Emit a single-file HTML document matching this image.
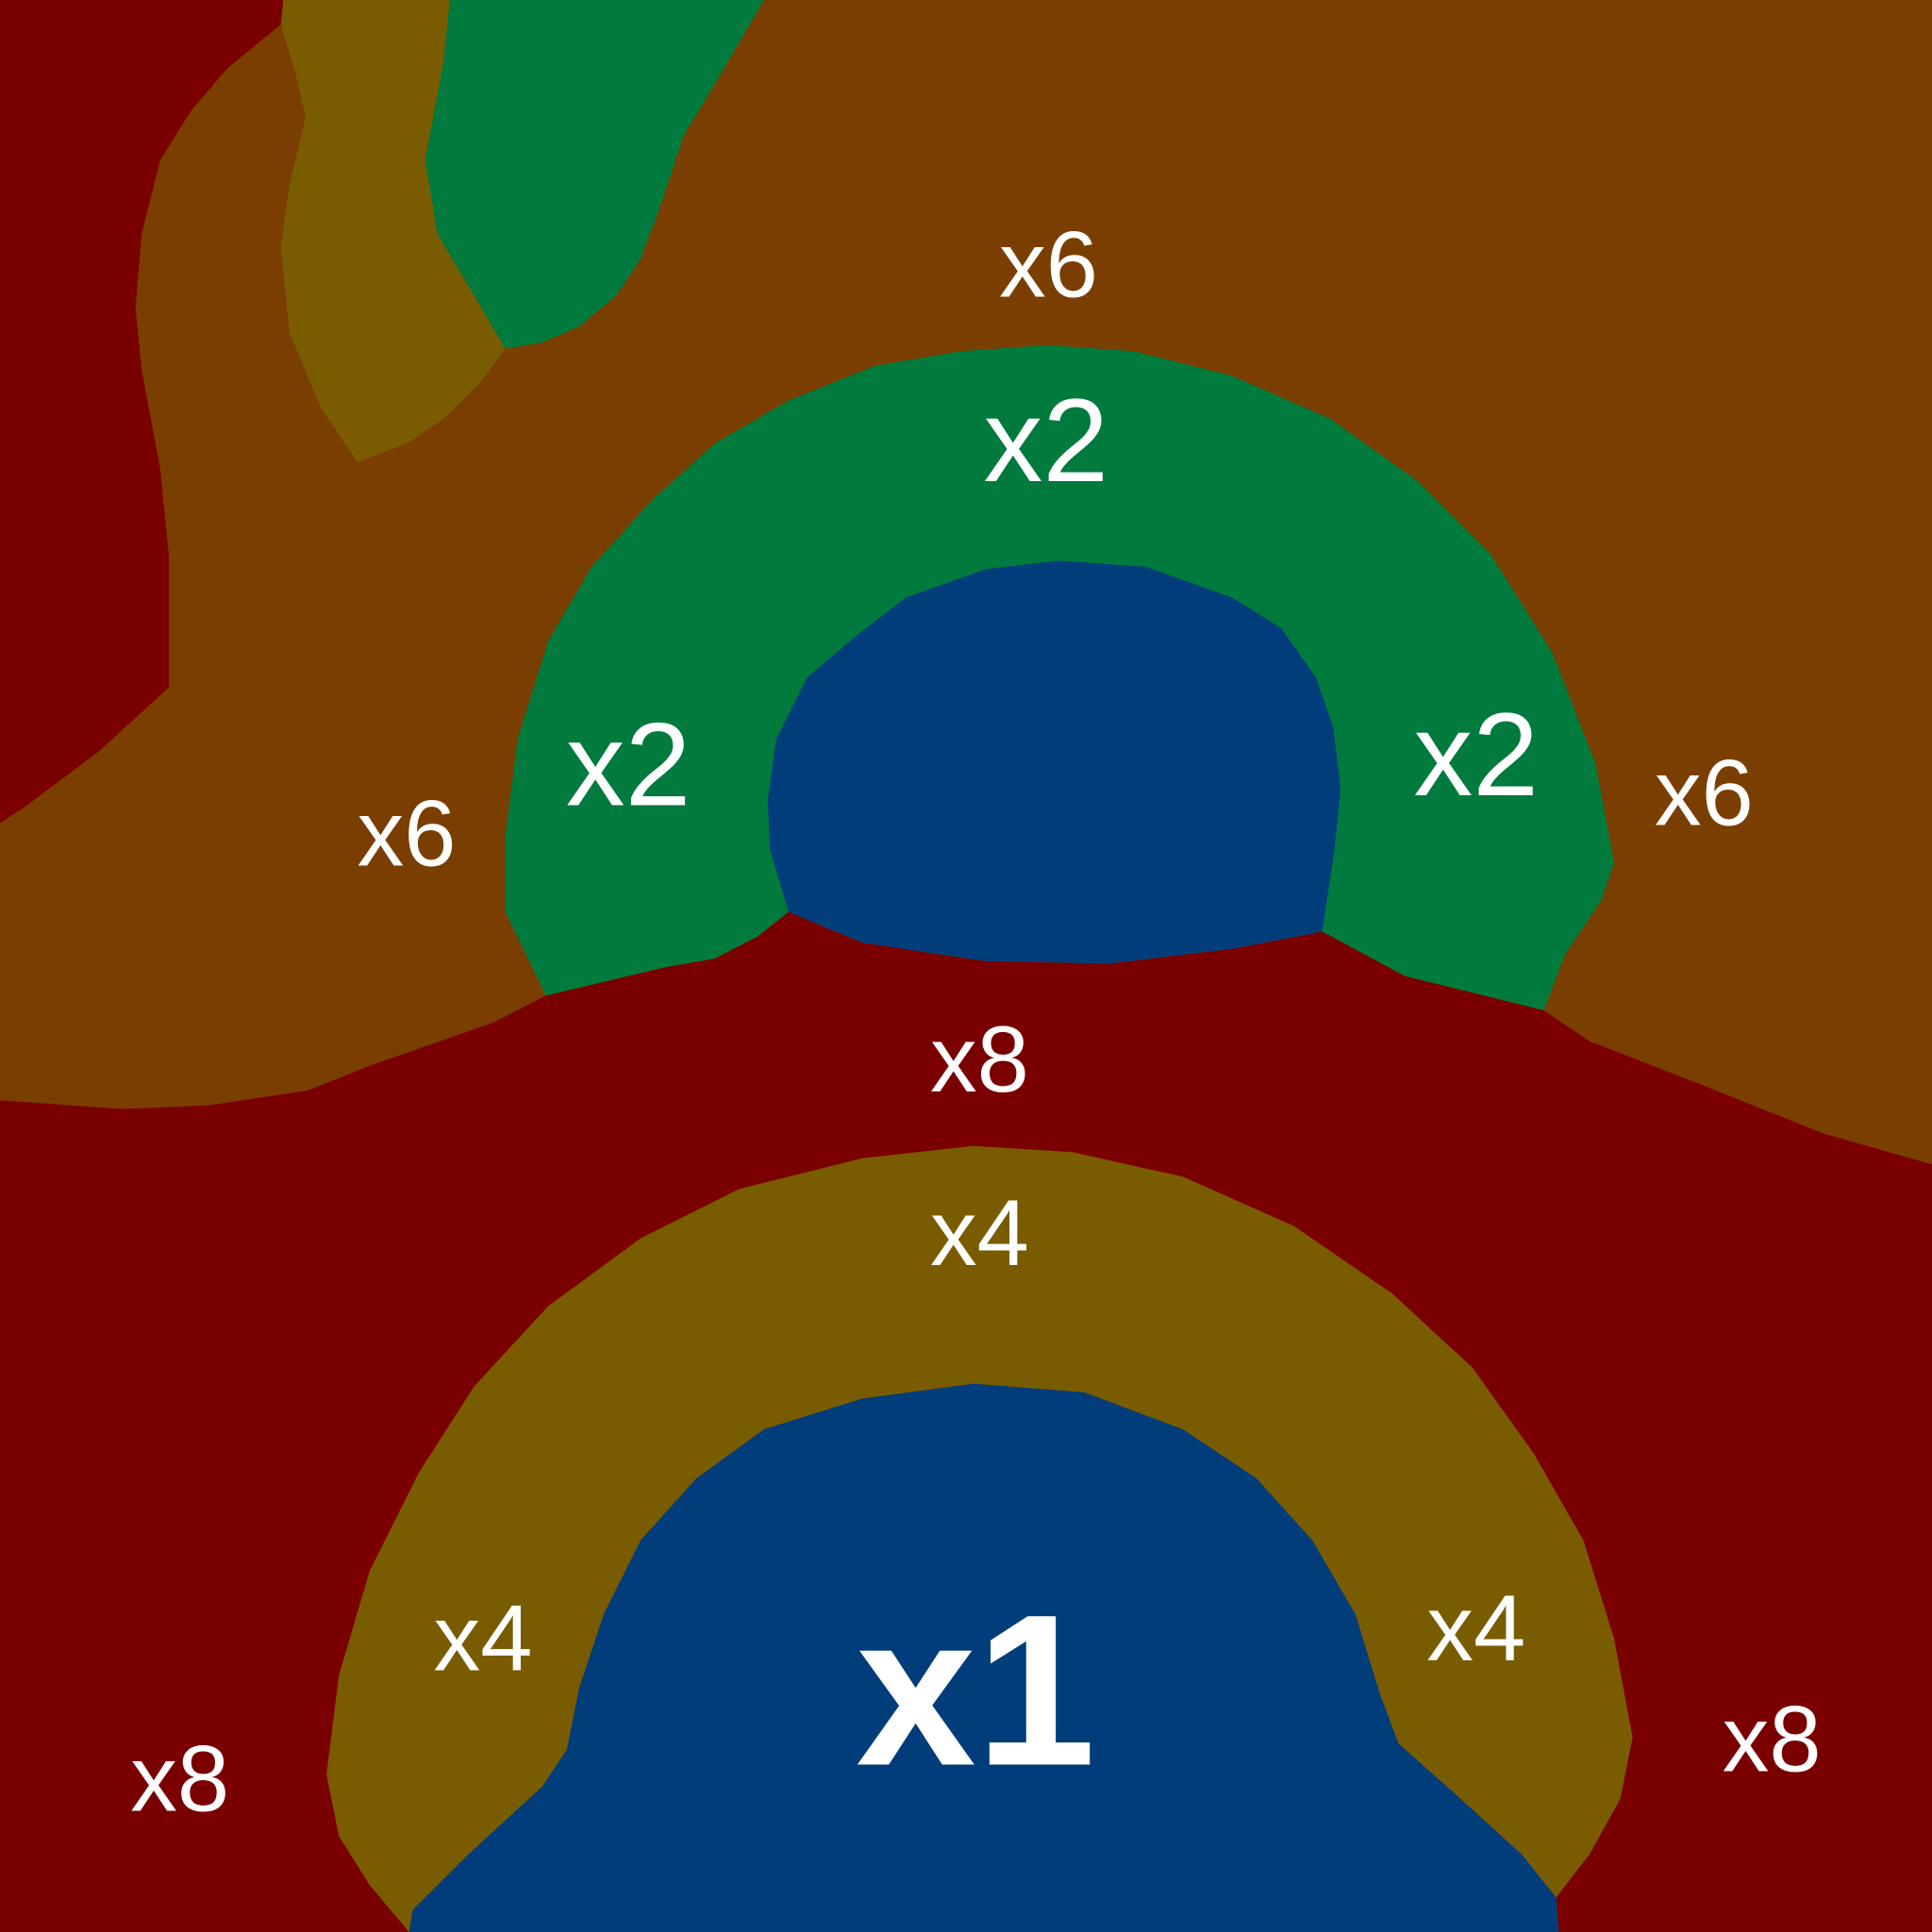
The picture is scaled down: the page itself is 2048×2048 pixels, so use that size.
<!DOCTYPE html>
<html><head><meta charset="utf-8"><style>
html,body{margin:0;padding:0;background:#7a0000;}
svg{display:block;}
text{font-family:"Liberation Sans",sans-serif;fill:#fff;text-anchor:middle;dominant-baseline:central;}
</style></head><body>
<svg width="2048" height="2048" viewBox="0 0 1568 1568" xmlns="http://www.w3.org/2000/svg">
<rect x="0" y="0" width="1568" height="1568" fill="#7a0000"/>
<polygon fill="#7a3f00" points="230,0 1568,0 1568,945 1480,920 1380,880 1290,845 1253,820 1140,792 1073,756 1000,770 900,782 800,780 700,765 640,740 615,760 580,778 540,785 443,808 400,830 300,865 250,885 170,897 100,900 0,893 0,668 20,655 80,610 137,558 137,450 130,380 115,300 110,250 115,190 130,130 155,90 185,55 228,20"/>
<polygon fill="#7a5c00" points="230,0 365,0 360,50 345,130 355,190 385,240 410,283 390,310 360,340 330,360 290,375 260,330 235,270 228,200 235,150 248,95 240,60 228,20"/>
<polygon fill="#007a3d" points="365,0 620,0 585,60 555,110 535,170 520,210 500,240 470,265 440,278 410,283 385,240 355,190 345,130 360,50"/>
<polygon fill="#007a3d" points="443,808 410,740 410,680 420,600 445,520 480,460 530,405 580,360 640,325 710,297 780,285 850,280 920,285 1000,305 1080,340 1150,390 1210,450 1260,530 1295,620 1310,700 1300,730 1270,775 1253,820 1140,792 1073,756 1000,770 900,782 800,780 700,765 640,740 615,760 580,778 540,785"/>
<polygon fill="#003d7a" points="640,740 625,690 623,650 630,600 655,550 690,520 735,485 800,462 860,455 930,460 1000,485 1040,510 1068,550 1082,590 1088,640 1083,690 1073,756 1000,770 900,782 800,780 700,765"/>
<polygon fill="#7a5c00" points="332,1568 300,1530 275,1490 265,1440 275,1360 300,1275 340,1195 385,1125 445,1060 520,1005 600,965 700,940 790,930 870,935 960,955 1050,995 1130,1050 1195,1110 1245,1180 1285,1250 1310,1330 1325,1410 1315,1460 1290,1505 1263,1540 1265,1568"/>
<polygon fill="#003d7a" points="332,1568 335,1550 380,1505 440,1450 460,1420 470,1370 490,1310 520,1250 565,1200 620,1160 700,1135 790,1123 880,1130 960,1160 1020,1200 1065,1250 1100,1310 1120,1375 1135,1415 1180,1455 1235,1505 1263,1540 1265,1568"/>
<text x="851" y="215" font-size="76">x6</text>
<text x="849" y="357" font-size="96">x2</text>
<text x="510" y="620" font-size="96">x2</text>
<text x="1198" y="612" font-size="96">x2</text>
<text x="330" y="677" font-size="76">x6</text>
<text x="1383" y="644" font-size="76">x6</text>
<text x="795" y="860" font-size="76">x8</text>
<text x="795" y="1001" font-size="76">x4</text>
<text x="392" y="1330" font-size="76">x4</text>
<text x="1198" y="1322" font-size="76">x4</text>
<text x="146" y="1444" font-size="76">x8</text>
<text x="1438" y="1412" font-size="76">x8</text>
<text x="792" y="1372" font-size="175" font-weight="bold">x1</text>
</svg>
</body></html>
